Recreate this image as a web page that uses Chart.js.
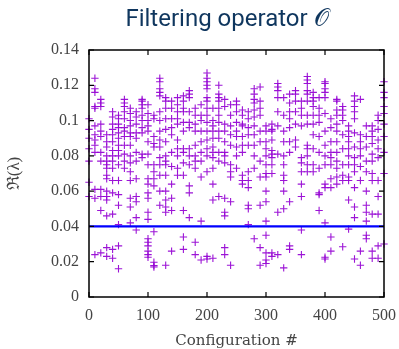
<!DOCTYPE html>
<html>
<head>
<meta charset="utf-8">
<script src="https://cdn.jsdelivr.net/npm/chart.js@4"></script>
<style>
  html, body { margin: 0; padding: 0; background: #fff; }
  canvas { display: block; }
</style>
</head>
<body>
<canvas id="grafico" width="399" height="349"></canvas>
<script>
// configuraciones (eje x)
var configs = [0, 10, 20, 30, 40, 50, 60, 70, 80, 90, 100, 110, 120, 130, 140, 150, 160, 170, 180, 190,
  200, 210, 220, 230, 240, 250, 260, 270, 280, 290, 300, 310, 320, 330, 340, 350, 360, 370, 380, 390,
  400, 410, 420, 430, 440, 450, 460, 470, 480, 490, 500];

// parte real de los autovalores, una lista por configuracion
var eigenvalues = [
  [0.101, 0.095, 0.090, 0.084, 0.077, 0.065, 0.057],
  [0.124, 0.118, 0.116, 0.108, 0.107, 0.097, 0.092, 0.089, 0.086, 0.082, 0.061, 0.056, 0.024],
  [0.112, 0.110, 0.108, 0.098, 0.094, 0.091, 0.082, 0.077, 0.061, 0.057, 0.049, 0.025],
  [0.092, 0.088, 0.085, 0.080, 0.077, 0.075, 0.073, 0.069, 0.067, 0.060, 0.057, 0.055, 0.046, 0.028, 0.023],
  [0.105, 0.102, 0.098, 0.095, 0.092, 0.088, 0.083, 0.080, 0.077, 0.073, 0.066, 0.059, 0.047, 0.027, 0.022],
  [0.103, 0.101, 0.098, 0.096, 0.093, 0.090, 0.086, 0.083, 0.080, 0.075, 0.066, 0.058, 0.052, 0.041, 0.029, 0.016],
  [0.112, 0.110, 0.108, 0.105, 0.101, 0.096, 0.094, 0.091, 0.086, 0.081, 0.077, 0.073],
  [0.107, 0.104, 0.100, 0.097, 0.093, 0.091, 0.086, 0.080, 0.076, 0.071, 0.066, 0.056, 0.051, 0.042],
  [0.105, 0.102, 0.098, 0.093, 0.090, 0.082, 0.077, 0.067, 0.057, 0.054, 0.045, 0.038],
  [0.112, 0.111, 0.109, 0.107, 0.103, 0.100, 0.096, 0.093, 0.081, 0.079],
  [0.109, 0.104, 0.100, 0.097, 0.094, 0.088, 0.081, 0.075, 0.067, 0.064, 0.059, 0.056, 0.048, 0.044, 0.033, 0.031, 0.029, 0.026, 0.024, 0.0225],
  [0.103, 0.101, 0.091, 0.087, 0.085, 0.075, 0.071, 0.067, 0.063, 0.037, 0.0197, 0.0178, 0.017],
  [0.124, 0.122, 0.118, 0.116, 0.114, 0.105, 0.100, 0.094, 0.089, 0.085, 0.079, 0.075, 0.069, 0.060, 0.052],
  [0.113, 0.111, 0.107, 0.101, 0.095, 0.088, 0.080, 0.077, 0.075, 0.069, 0.060, 0.055, 0.051, 0.048, 0.018],
  [0.111, 0.107, 0.101, 0.096, 0.092, 0.082, 0.074, 0.064, 0.056, 0.049, 0.026],
  [0.113, 0.109, 0.105, 0.101, 0.098, 0.089, 0.084, 0.080, 0.073, 0.069],
  [0.114, 0.111, 0.107, 0.105, 0.099, 0.094, 0.084, 0.082, 0.076, 0.069, 0.049, 0.034, 0.027],
  [0.117, 0.115, 0.113, 0.105, 0.099, 0.096, 0.084, 0.080, 0.075, 0.063, 0.059, 0.045],
  [0.107, 0.103, 0.098, 0.094, 0.086, 0.080, 0.077, 0.073, 0.031, 0.024],
  [0.109, 0.103, 0.100, 0.094, 0.088, 0.082, 0.077, 0.068, 0.043, 0.021],
  [0.127, 0.124, 0.122, 0.120, 0.118, 0.113, 0.111, 0.107, 0.103, 0.099, 0.094, 0.089, 0.084, 0.080, 0.071, 0.023, 0.0215],
  [0.107, 0.100, 0.097, 0.094, 0.090, 0.085, 0.082, 0.079, 0.073, 0.064, 0.055, 0.022],
  [0.120, 0.115, 0.113, 0.111, 0.107, 0.103, 0.099, 0.094, 0.090, 0.082, 0.077, 0.057],
  [0.112, 0.108, 0.098, 0.094, 0.088, 0.082, 0.080, 0.076, 0.056, 0.048, 0.046, 0.028, 0.024],
  [0.109, 0.103, 0.097, 0.092, 0.086, 0.075, 0.071, 0.068, 0.054, 0.018],
  [0.111, 0.109, 0.105, 0.099, 0.094, 0.091, 0.085, 0.080, 0.073],
  [0.106, 0.103, 0.098, 0.097, 0.091, 0.086, 0.082, 0.069, 0.066, 0.064],
  [0.105, 0.101, 0.096, 0.092, 0.086, 0.071, 0.066, 0.062, 0.052, 0.050, 0.041],
  [0.118, 0.115, 0.112, 0.110, 0.106, 0.102, 0.097, 0.092, 0.086, 0.080, 0.073, 0.033],
  [0.119, 0.111, 0.107, 0.103, 0.094, 0.088, 0.077, 0.068, 0.052, 0.028, 0.018],
  [0.097, 0.094, 0.088, 0.084, 0.080, 0.075, 0.070, 0.068, 0.060, 0.054, 0.043, 0.035, 0.025, 0.021, 0.019],
  [0.098, 0.095, 0.094, 0.089, 0.083, 0.081, 0.079, 0.075, 0.070, 0.025, 0.023],
  [0.121, 0.119, 0.117, 0.113, 0.105, 0.097, 0.081, 0.048, 0.024],
  [0.113, 0.103, 0.094, 0.088, 0.080, 0.075, 0.069, 0.066, 0.060, 0.050, 0.0165],
  [0.115, 0.110, 0.105, 0.101, 0.096, 0.088, 0.082, 0.054, 0.029, 0.027],
  [0.117, 0.115, 0.111, 0.105, 0.098, 0.089, 0.085],
  [0.111, 0.107, 0.103, 0.097, 0.079, 0.076, 0.071, 0.064, 0.057, 0.038, 0.024],
  [0.125, 0.123, 0.121, 0.117, 0.115, 0.111, 0.103, 0.098, 0.086, 0.084, 0.080, 0.075, 0.071],
  [0.116, 0.113, 0.111, 0.108, 0.103, 0.098, 0.092, 0.084, 0.075, 0.071],
  [0.113, 0.107, 0.103, 0.099, 0.091, 0.082, 0.073, 0.059, 0.058, 0.049],
  [0.122, 0.121, 0.118, 0.116, 0.113, 0.104, 0.094, 0.086, 0.080, 0.075, 0.064, 0.062, 0.042, 0.0225, 0.0215],
  [0.101, 0.096, 0.088, 0.082, 0.079, 0.075, 0.067, 0.062, 0.034, 0.026],
  [0.112, 0.111, 0.106, 0.103, 0.098, 0.094, 0.088, 0.082, 0.077, 0.073, 0.068, 0.064],
  [0.108, 0.106, 0.103, 0.100, 0.092, 0.084, 0.075, 0.069, 0.066, 0.0285],
  [0.097, 0.094, 0.091, 0.088, 0.084, 0.080, 0.075, 0.068, 0.066, 0.055, 0.0385],
  [0.114, 0.111, 0.108, 0.105, 0.101, 0.093, 0.085, 0.079, 0.075, 0.071, 0.062, 0.051, 0.045, 0.0215],
  [0.112, 0.092, 0.088, 0.084, 0.080, 0.074, 0.066, 0.026, 0.018],
  [0.097, 0.091, 0.085, 0.077, 0.071, 0.060, 0.052, 0.048, 0.043, 0.035, 0.033],
  [0.097, 0.094, 0.091, 0.087, 0.081, 0.077, 0.070, 0.066, 0.047, 0.026, 0.022],
  [0.103, 0.100, 0.095, 0.089, 0.084, 0.079, 0.066, 0.057, 0.047, 0.029, 0.022],
  [0.122, 0.116, 0.113, 0.108, 0.104, 0.098, 0.091, 0.082, 0.070, 0.030]
];

// linea de corte
var cutX = [0, 500];
var cutValue = 0.04;

var xTicks = [0, 100, 200, 300, 400, 500];
var yTicks = [0, 0.02, 0.04, 0.06, 0.08, 0.1, 0.12, 0.14];

var puntos = [];
configs.forEach(function (c, i) {
    eigenvalues[i].forEach(function (v) { puntos.push({ x: c, y: v }); });
});

var fuenteSerif = "'Liberation Serif', serif";

// marco con marcas hacia dentro, estilo gnuplot
var marco = {
    id: 'marco',
    afterDraw: function (chart) {
        var ctx = chart.ctx, a = chart.chartArea;
        var sx = chart.scales.x, sy = chart.scales.y;
        var len = 5;
        ctx.save();
        ctx.strokeStyle = '#000';
        ctx.lineWidth = 1.2;
        ctx.beginPath();
        xTicks.forEach(function (t) {
            var px = sx.getPixelForValue(t);
            ctx.moveTo(px, a.bottom); ctx.lineTo(px, a.bottom - len);
            ctx.moveTo(px, a.top); ctx.lineTo(px, a.top + len);
        });
        yTicks.forEach(function (t) {
            var py = sy.getPixelForValue(t);
            ctx.moveTo(a.left, py); ctx.lineTo(a.left + len, py);
            ctx.moveTo(a.right, py); ctx.lineTo(a.right - len, py);
        });
        ctx.stroke();
        ctx.lineWidth = 1.5;
        ctx.strokeRect(a.left, a.top, a.right - a.left, a.bottom - a.top);
        // titulo
        ctx.fillStyle = '#0f365e';
        ctx.font = "24px Roboto, 'Noto Sans', sans-serif";
        ctx.textAlign = 'center';
        ctx.textBaseline = 'alphabetic';
        ctx.fillText('Filtering operator \u{1D4AA}', 227, 26);
        ctx.restore();
    }
};

var ctx = document.getElementById('grafico').getContext('2d');
var myChart = new Chart(ctx, {
    type: 'scatter',
    data: {
        datasets: [{
            type: 'line',
            data: cutX.map(function (x) { return { x: x, y: cutValue }; }),
            borderColor: '#0000ff',
            borderWidth: 2.2,
            pointRadius: 0,
            clip: false
        }, {
            data: puntos,
            pointStyle: 'cross',
            pointRadius: 3.7,
            pointBorderWidth: 1.1,
            borderColor: 'rgba(148, 0, 211, 0.92)',
            backgroundColor: 'rgba(148, 0, 211, 0.92)',
            clip: false
        }]
    },
    options: {
        responsive: false,
        animation: false,
        events: [],
        layout: { padding: { top: 50, right: 15, left: 0, bottom: 0 } },
        plugins: { legend: { display: false }, tooltip: { enabled: false } },
        scales: {
            x: {
                type: 'linear',
                min: 0, max: 500,
                grid: { display: false, drawTicks: false },
                border: { display: false },
                afterFit: function (s) { s.height = 52; s.paddingLeft = 0; s.paddingRight = 0; },
                afterBuildTicks: function (s) { s.ticks = xTicks.map(function (v) { return { value: v }; }); },
                ticks: {
                    padding: 9,
                    color: '#444',
                    font: { family: fuenteSerif, size: 16 }
                },
                title: {
                    display: true,
                    text: 'Configuration #',
                    color: '#444',
                    padding: 0,
                    font: { family: "'DejaVu Serif', serif", size: 15, lineHeight: 1 }
                }
            },
            y: {
                min: 0, max: 0.14,
                grid: { display: false, drawTicks: false },
                border: { display: false },
                afterFit: function (s) { s.width = 89; s.paddingTop = 0; s.paddingBottom = 0; },
                afterBuildTicks: function (s) { s.ticks = yTicks.map(function (v) { return { value: v }; }); },
                ticks: {
                    padding: 10,
                    color: '#444',
                    font: { family: fuenteSerif, size: 16 },
                    callback: function (v) { return String(+v.toFixed(2)); }
                },
                title: {
                    display: true,
                    text: '\u211C(\u03BB)',
                    color: '#444',
                    padding: { top: 4, bottom: 0 },
                    font: { family: fuenteSerif, size: 17 }
                }
            }
        }
    },
    plugins: [marco]
});
</script>
</body>
</html>
